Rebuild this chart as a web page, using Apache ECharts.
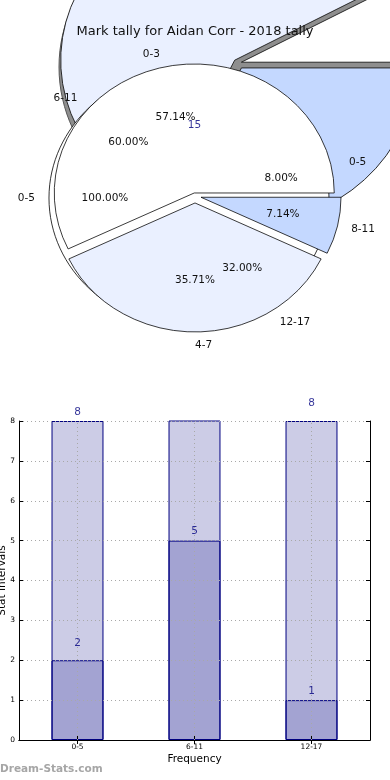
<!DOCTYPE html>
<html><head><meta charset="utf-8">
<script src="https://cdn.jsdelivr.net/npm/echarts@6/dist/echarts.min.js"></script>
<style>html,body{margin:0;padding:0;background:#fff}#c{width:390px;height:780px}</style>
</head><body><div id="c"></div>
<script>
// ---- pie data ----
const outerCats = ['0-5', '6-11', '12-17'];
const outerVals = [2, 15, 8];
const midCats = ['0-5'];
const midVals = [1];
const innerCats = ['0-3', '4-7', '8-11'];
const innerVals = [8, 5, 1];
// ---- bar data ----
const barCats = ['0-5', '6-11', '12-17'];
const barTotals = [8, 15, 8];
const barCounts = [2, 5, 1];
const yTicks = [0, 1, 2, 3, 4, 5, 6, 7, 8];
const titleText = 'Mark tally for Aidan Corr - 2018 tally';

// ---- styles ----
const FONT = '"DejaVu Sans", Verdana, sans-serif';
const sliceColors = ['#ffffff', '#eaf0ff', '#c4d8ff'];
const totalLabelGap = [3, 11, 12];
const countLabelGap = [11, 4, 3];

function angles(vals) {
  const tot = vals.reduce((s, v) => s + v, 0);
  let acc = 0;
  return vals.map(v => {
    const a0 = acc / tot * 2 * Math.PI; acc += v;
    const a1 = acc / tot * 2 * Math.PI;
    return { a0, a1, m: (a0 + a1) / 2, frac: v / tot };
  });
}

function makePie(cats, vals, wg, tg, z2w) {
  const ang = angles(vals);
  return {
    type: 'custom', coordinateSystem: 'none', silent: true, animation: false, z: 2,
    data: vals.map((v, i) => ({ name: cats[i], value: [i, v] })),
    renderItem: (params, api) => {
      const i = params.dataIndex, g = ang[i];
      const c = Math.cos(g.m), s = Math.sin(g.m);
      const ex = wg.explode[i];
      const wx = wg.cx + ex * wg.a * c, wy = wg.cy - ex * wg.b * s;
      const kids = [];
      if (wg.shadow && i === 0) {
        kids.push({ type: 'ellipse', z2: z2w - 0.5,
          shape: { cx: wg.cx + wg.shadow.dx, cy: wg.cy + wg.shadow.dy, rx: wg.a, ry: wg.b },
          style: { fill: wg.shadow.fill, stroke: wg.shadow.stroke, lineWidth: 1 } });
      }
      const wStyle = { fill: sliceColors[i % sliceColors.length], stroke: wg.edge, lineWidth: wg.lw, strokeNoScale: true };
      if (g.a1 - g.a0 >= 2 * Math.PI - 1e-9) {
        kids.push({ type: 'ellipse', z2: z2w, shape: { cx: wx, cy: wy, rx: wg.a, ry: wg.b }, style: wStyle });
      } else {
        kids.push({ type: 'sector', z2: z2w,
          shape: { cx: wx, cy: wy, r: wg.a, r0: 0, startAngle: -g.a1, endAngle: -g.a0, clockwise: true },
          originX: wx, originY: wy, scaleY: wg.b / wg.a, style: wStyle });
      }
      const tx = tg ? tg.cx : wx, ty = tg ? tg.cy : wy;
      const la = tg ? tg.la : 1.1 * wg.a, lb = tg ? tg.lb : 1.1 * wg.b;
      const pa = tg ? tg.pa : 0.6 * wg.a, pb = tg ? tg.pb : 0.6 * wg.b;
      const font = { fontSize: 10.5, fontFamily: FONT, fill: '#111' };
      kids.push({ type: 'text', z2: 10, x: tx + la * c, y: ty - lb * s,
        style: Object.assign({ text: cats[i], align: c > -1e-6 ? 'left' : 'right', verticalAlign: 'middle' }, font) });
      kids.push({ type: 'text', z2: 10, x: tx + pa * c, y: ty - pb * s,
        style: Object.assign({ text: (g.frac * 100).toFixed(2) + '%', align: 'center', verticalAlign: 'middle' }, font) });
      return { type: 'group', children: kids };
    }
  };
}

const outerWedgeGeo = { cx: 238, cy: 63, a: 174, b: 158, explode: [0.02, 0.026, 0.037], edge: '#222', lw: 1,
  shadow: { dx: -5, dy: 4, fill: '#8e8e8e', stroke: '#555' } };
const outerTextGeo = { cx: 194, cy: 198.6, la: 160, lb: 146, pa: 90, pb: 82.8 };
const midGeo = { cx: 195, cy: 198, a: 140, b: 129, explode: [0.043], edge: '#000', lw: 0.8 };
const innerGeo = { cx: 195, cy: 196, a: 140, b: 129, explode: [0.024, 0.054, 0.044], edge: '#000', lw: 0.8 };

const barStyle = { color: 'rgba(0,0,128,0.2)', borderColor: '#000080', borderWidth: 1 };
const tickFont = { fontSize: 7.5, fontFamily: FONT, color: '#000' };
const gridLine = { show: true, lineStyle: { color: '#a8a8a8', type: [1, 3], width: 1 } };

const chart = echarts.init(document.getElementById('c'), null, { renderer: 'canvas' });
chart.setOption({
  animation: false,
  backgroundColor: '#fff',
  title: { text: titleText, left: 'center', top: 20,
    textStyle: { fontFamily: FONT, fontSize: 13, fontWeight: 'normal', color: '#111' } },
  graphic: [{ type: 'text', left: 0, top: 764,
    style: { text: 'Dream-Stats.com', fill: '#a6a6a6', font: 'bold 10.5px ' + FONT } }],
  grid: { left: 19, right: 20, top: 421, bottom: 40, containLabel: false, outerBoundsMode: 'none' },
  xAxis: [
    { type: 'category', data: barCats, position: 'bottom', z: 3,
      axisLine: { show: true, lineStyle: { color: '#000', width: 1 } },
      axisTick: { show: true, inside: true, alignWithLabel: true, length: 4, lineStyle: { color: '#000' } },
      axisLabel: Object.assign({ margin: 3 }, tickFont),
      splitLine: { show: false },
      name: 'Frequency', nameLocation: 'middle', nameGap: 14, nameMoveOverlap: false,
      nameTextStyle: { fontFamily: FONT, fontSize: 10.5, color: '#000' } },
    { type: 'category', data: barCats, position: 'top', z: 3,
      axisLine: { show: true, lineStyle: { color: '#000', width: 1 } },
      axisTick: { show: true, inside: true, alignWithLabel: true, length: 4, lineStyle: { color: '#000' } },
      axisLabel: { show: false }, splitLine: { show: false } }
  ],
  yAxis: [
    { type: 'value', min: yTicks[0], max: yTicks[yTicks.length - 1], interval: 1, position: 'left', z: 3,
      axisLine: { show: true, lineStyle: { color: '#000', width: 1 } },
      axisTick: { show: true, inside: true, length: 4, lineStyle: { color: '#000' } },
      axisLabel: Object.assign({ margin: 4 }, tickFont),
      splitLine: gridLine,
      name: 'Stat Intervals', nameLocation: 'middle', nameGap: 11, nameRotate: 90, nameMoveOverlap: false,
      nameTextStyle: { fontFamily: FONT, fontSize: 10.5, color: '#000' } },
    { type: 'value', min: yTicks[0], max: yTicks[yTicks.length - 1], interval: 1, position: 'right', z: 3,
      axisLine: { show: true, lineStyle: { color: '#000', width: 1 } },
      axisTick: { show: true, inside: true, length: 4, lineStyle: { color: '#000' } },
      axisLabel: { show: false }, splitLine: { show: false } }
  ],
  series: [
    makePie(outerCats, outerVals, outerWedgeGeo, outerTextGeo, 1),
    makePie(midCats, midVals, midGeo, null, 2),
    makePie(innerCats, innerVals, innerGeo, null, 3),
    { type: 'bar', name: 'totals', data: barTotals, barWidth: '44.4%', barGap: '-100%', itemStyle: barStyle, z: 2 },
    { type: 'bar', name: 'counts', data: barCounts, barWidth: '44.4%', barGap: '-100%', itemStyle: barStyle, z: 2 },
    { type: 'scatter', name: 'labels', symbolSize: 0, clip: false, z: 4, silent: true,
      data: barTotals.map((v, i) => ({ value: [i, v], label: { distance: totalLabelGap[i] } }))
        .concat(barCounts.map((v, i) => ({ value: [i, v], label: { distance: countLabelGap[i] } }))),
      label: { show: true, position: 'top', formatter: p => String(p.value[1]),
        fontFamily: FONT, fontSize: 10.5, color: '#000080' },
      markLine: { silent: true, symbol: 'none', z: 4, label: { show: false },
        lineStyle: { color: '#a8a8a8', type: [1, 3], width: 1 },
        data: barCats.map(cn => ({ xAxis: cn })) } }
  ]
});
</script></body></html>
